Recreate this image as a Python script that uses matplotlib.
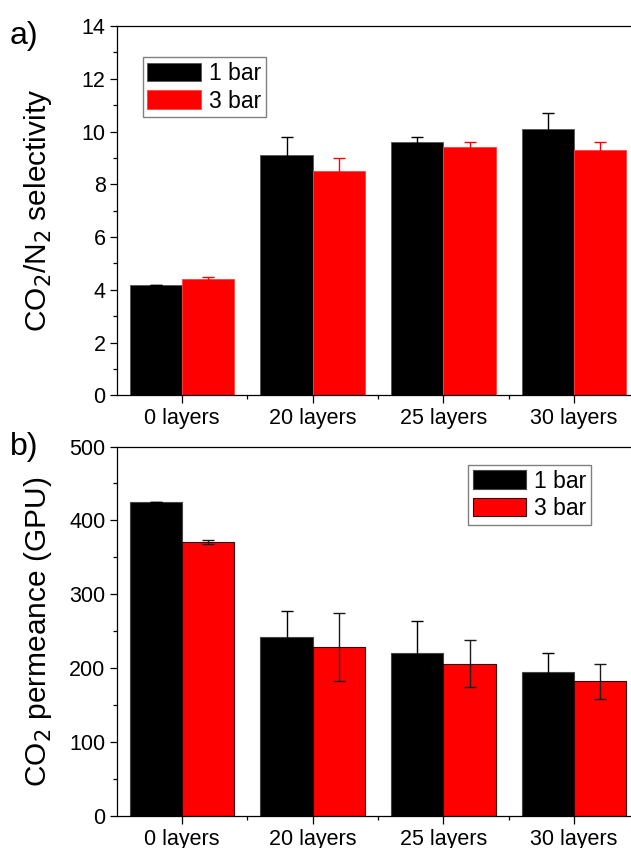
import matplotlib
matplotlib.use("Agg")
import matplotlib.pyplot as plt
import numpy as np

plt.rcParams['font.family'] = ['Liberation Sans', 'DejaVu Sans']

categories = ["0 layers", "20 layers", "25 layers", "30 layers"]
series = ["1 bar", "3 bar"]

# a) CO2/N2 selectivity
sel_1bar = [4.2, 9.1, 9.6, 10.1]
sel_1bar_err = [0.0, 0.7, 0.2, 0.6]
sel_3bar = [4.4, 8.5, 9.4, 9.3]
sel_3bar_err = [0.1, 0.5, 0.2, 0.3]

# b) CO2 permeance (GPU)
perm_1bar = [425, 242, 221, 195]
perm_1bar_err = [0, 35, 43, 26]
perm_3bar = [371, 228, 206, 182]
perm_3bar_err = [3, 46, 32, 24]

W, H = 631, 848
fig = plt.figure(figsize=(W / 100, H / 100), dpi=100)

ax_left = 116.7 / W
ax_w = 522.7 / W
ax1 = fig.add_axes([ax_left, 1 - 395.3 / H, ax_w, 369.3 / H])
ax2 = fig.add_axes([ax_left, 1 - 815.7 / H, ax_w, 369.2 / H])

x = np.arange(len(categories))
bw = 0.4


def style_axis(ax, ymax, major, minor):
    ax.set_xlim(-0.5, 3.5)
    ax.set_ylim(0, ymax)
    ax.set_yticks(np.arange(0, ymax + 0.1, major))
    ax.set_yticks(np.arange(0, ymax + 0.1, minor), minor=True)
    ax.set_xticks(x)
    ax.set_xticks(x[:-1] + 0.5, minor=True)
    ax.set_xticklabels(categories)
    ax.tick_params(which="major", direction="out", length=5, width=0.9,
                   labelsize=15.5, pad=3)
    ax.tick_params(which="minor", direction="out", length=3, width=0.9)
    ax.tick_params(axis="x", which="major", length=5.5, pad=4)
    for s in ax.spines.values():
        s.set_linewidth(0.9)


def add_legend(ax, anchor):
    leg = ax.legend(loc="upper left", bbox_to_anchor=anchor,
                    borderaxespad=0, fontsize=16.5, handlelength=2.35,
                    handleheight=0.85, handletextpad=0.35, labelspacing=0.2,
                    borderpad=0.2, fancybox=False, framealpha=1)
    leg.get_frame().set_edgecolor("#808080")
    leg.get_frame().set_linewidth(1.0)


# panel a
ax1.bar(x - bw / 2, sel_1bar, bw, color="black", edgecolor="#555555",
        linewidth=0.6, label=series[0], zorder=2)
ax1.bar(x + bw / 2, sel_3bar, bw, color="#ff0000", edgecolor="#ff4040",
        linewidth=0.6, label=series[1], zorder=2)
ax1.errorbar(x - bw / 2, sel_1bar, yerr=sel_1bar_err, fmt="none",
             ecolor="black", elinewidth=1.0, capsize=4.5, capthick=1.0, zorder=3)
ax1.errorbar(x + bw / 2, sel_3bar, yerr=sel_3bar_err, fmt="none",
             ecolor="#ff0000", elinewidth=1.0, capsize=4.5, capthick=1.0, zorder=3)
style_axis(ax1, 14, 2, 1)
add_legend(ax1, (0.0497, 0.915))

# panel b
ax2.bar(x - bw / 2, perm_1bar, bw, color="black", edgecolor="#444444",
        linewidth=0.8, label=series[0], zorder=2)
ax2.bar(x + bw / 2, perm_3bar, bw, color="#ff0000", edgecolor="#3a0000",
        linewidth=0.8, label=series[1], zorder=2)
ax2.errorbar(x - bw / 2, perm_1bar, yerr=perm_1bar_err, fmt="none",
             ecolor="black", elinewidth=1.0, capsize=4.5, capthick=1.0, zorder=3)
ax2.errorbar(x + bw / 2, perm_3bar, yerr=perm_3bar_err, fmt="none",
             ecolor="#1a1a1a", elinewidth=1.0, capsize=4.5, capthick=1.0, zorder=3)
style_axis(ax2, 500, 100, 50)
add_legend(ax2, (0.672, 0.950))

# axis labels and panel letters
fig.text(38 / W, 1 - 210 / H, r"CO$_2$/N$_2$ selectivity", rotation=90,
         ha="center", va="center", fontsize=21.5)
fig.text(38 / W, 1 - 632 / H, r"CO$_2$ permeance (GPU)", rotation=90,
         ha="center", va="center", fontsize=21.5)
fig.text(10 / W, 1 - 36 / H, "a)", ha="left", va="center", fontsize=23)
fig.text(10 / W, 1 - 447 / H, "b)", ha="left", va="center", fontsize=23)

fig.savefig("out.png", dpi=100)
